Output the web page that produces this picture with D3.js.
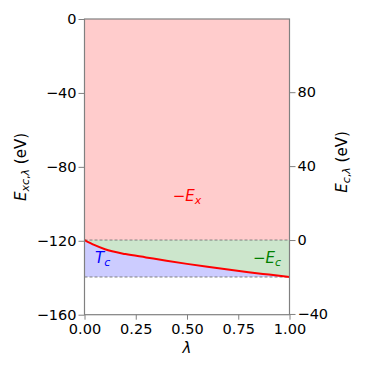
<!DOCTYPE html>
<html>
<head>
<meta charset="utf-8">
<style>
  body { margin: 0; background: #fff; }
  svg { font-family: "DejaVu Sans", sans-serif; }
</style>
</head>
<body>
<div id="chart"></div>
<script src="https://d3js.org/d3.v7.min.js"></script>
<script>
// adiabatic connection curve
var lambdaVals = [0, 0.05, 0.1, 0.2, 0.3, 0.4, 0.5, 0.6, 0.7, 0.8, 0.9, 1.0];
var excVals = [-119.6, -122.4, -124.6, -127.2, -129.0, -130.8, -132.5, -134.1, -135.6, -137.0, -138.3, -139.6];
var exVal = -119.6;            // E_x line, zero of the right axis
var leftTicks = [0, -40, -80, -120, -160];
var rightTicks = [80, 40, 0, -40];
var xTicks = [0, 0.25, 0.5, 0.75, 1];

var W = 374, H = 374;
var fsize = 14.5;
var spine = "#808080";

var svg = d3.select("#chart").append("svg")
    .attr("width", W).attr("height", H);
svg.append("rect").attr("width", W).attr("height", H).attr("fill", "#fff");

var x = d3.scaleLinear().domain([0, 1]).range([84.5, 289.5]);
var y = d3.scaleLinear().domain([-160, 0]).range([314.7, 19]);
var yR = d3.scaleLinear().domain([-160 - exVal, 0 - exVal]).range([314.7, 19]);

var pts = lambdaVals.map(function(l, i) { return {l: l, v: excVals[i]}; });
var exc1 = excVals[excVals.length - 1];

// red: exchange part
svg.append("rect")
    .attr("x", x(0)).attr("y", y(0))
    .attr("width", x(1) - x(0)).attr("height", y(exVal) - y(0))
    .attr("fill", "#ffcccc");

// green: -E_c between E_x and curve
svg.append("path").datum(pts)
    .attr("fill", "#cce6cc")
    .attr("d", d3.area().curve(d3.curveMonotoneX)
      .x(function(d) { return x(d.l); })
      .y0(y(exVal))
      .y1(function(d) { return y(d.v); }));

// blue: T_c between curve and E_xc(1)
svg.append("path").datum(pts)
    .attr("fill", "#ccccff")
    .attr("d", d3.area().curve(d3.curveMonotoneX)
      .x(function(d) { return x(d.l); })
      .y0(y(exc1))
      .y1(function(d) { return y(d.v); }));

// dashed guides
[exVal, exc1].forEach(function(v) {
  svg.append("line")
      .attr("x1", x(0)).attr("x2", x(1))
      .attr("y1", y(v)).attr("y2", y(v))
      .attr("stroke", "#808080").attr("stroke-width", 1)
      .attr("stroke-dasharray", "3,2");
});

// the curve
svg.append("path").datum(pts)
    .attr("fill", "none")
    .attr("stroke", "#ff0000").attr("stroke-width", 2)
    .attr("d", d3.line().curve(d3.curveMonotoneX)
      .x(function(d) { return x(d.l); })
      .y(function(d) { return y(d.v); }));

// axes
function styleAxis(g) {
  g.selectAll(".domain").remove();
  g.selectAll(".tick line").attr("stroke", spine);
  g.selectAll(".tick text").attr("fill", "#000")
      .style("font-size", fsize + "px")
      .style("font-family", "DejaVu Sans");
}

svg.append("g").attr("transform", "translate(" + x(0) + ",0)")
    .call(d3.axisLeft(y).tickValues(leftTicks).tickSize(6).tickPadding(2))
    .call(styleAxis);

svg.append("g").attr("transform", "translate(" + x(1) + ",0)")
    .call(d3.axisRight(yR).tickValues(rightTicks).tickSize(6).tickPadding(2))
    .call(styleAxis);

svg.append("g").attr("transform", "translate(0," + y(-160) + ")")
    .call(d3.axisBottom(x).tickValues(xTicks).tickSize(5).tickPadding(4)
      .tickFormat(d3.format(".2f")))
    .call(styleAxis);

// spines
svg.append("rect")
    .attr("x", x(0)).attr("y", y(0))
    .attr("width", x(1) - x(0)).attr("height", y(-160) - y(0))
    .attr("fill", "none").attr("stroke", spine).attr("stroke-width", 1.2);

// annotations
function sub(t, main, s, color) {
  t.attr("fill", color).style("font-size", "15px");
  t.append("tspan").text(main.pre || "");
  t.append("tspan").style("font-style", "italic").text(main.sym);
  t.append("tspan").attr("dy", 3).style("font-size", "11px")
      .style("font-style", "italic").text(s);
}
sub(svg.append("text").attr("x", x(0.5)).attr("y", 201).attr("text-anchor", "middle"),
    {pre: "\u2212", sym: "E"}, "x", "#ff0000");
sub(svg.append("text").attr("x", 95).attr("y", 263),
    {sym: "T"}, "c", "#0000ff");
sub(svg.append("text").attr("x", 281).attr("y", 263).attr("text-anchor", "end"),
    {pre: "\u2212", sym: "E"}, "c", "#008000");

// axis titles
var yl = svg.append("text")
    .attr("transform", "translate(26,167) rotate(-90)")
    .attr("text-anchor", "middle").style("font-size", "15px");
yl.append("tspan").style("font-style", "italic").text("E");
yl.append("tspan").attr("dy", 3).style("font-size", "11px").style("font-style", "italic").text("xc");
yl.append("tspan").style("font-size", "11px").text(",");
yl.append("tspan").style("font-size", "11px").style("font-style", "italic").text("\u03bb");
yl.append("tspan").attr("dy", -3).text(" (eV)");

var yr = svg.append("text")
    .attr("transform", "translate(347,162) rotate(-90)")
    .attr("text-anchor", "middle").style("font-size", "15px");
yr.append("tspan").style("font-style", "italic").text("E");
yr.append("tspan").attr("dy", 3).style("font-size", "11px").style("font-style", "italic").text("c");
yr.append("tspan").style("font-size", "11px").text(",");
yr.append("tspan").style("font-size", "11px").style("font-style", "italic").text("\u03bb");
yr.append("tspan").attr("dy", -3).text(" (eV)");

svg.append("text")
    .attr("x", x(0.5)).attr("y", 353)
    .attr("text-anchor", "middle")
    .style("font-size", "15px").style("font-style", "italic")
    .text("\u03bb");
</script>
</body>
</html>
